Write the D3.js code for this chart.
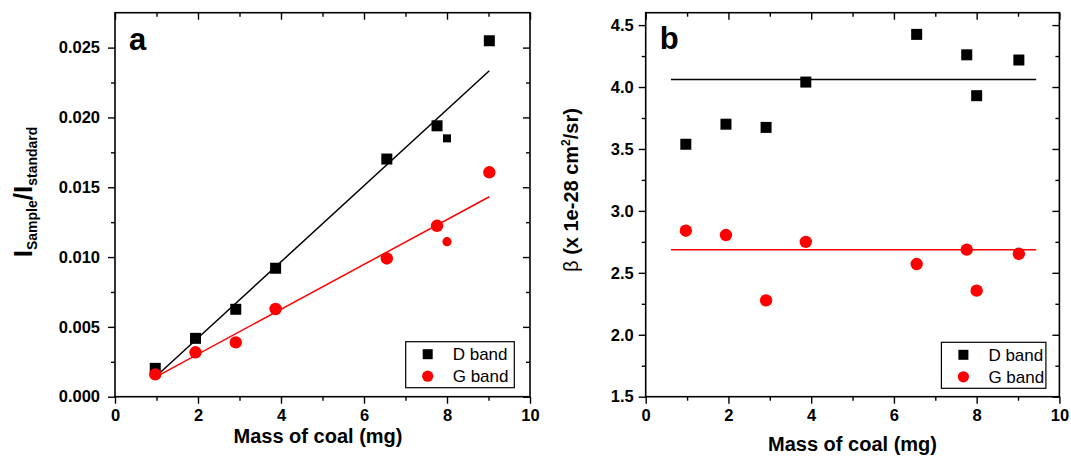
<!DOCTYPE html>
<html>
<head>
<meta charset="utf-8">
<script src="https://cdn.jsdelivr.net/npm/d3@7"></script>
<style>
  body { margin: 0; background: #fff; }
  svg { display: block; font-family: "Liberation Sans", Arial, sans-serif; }
</style>
</head>
<body>
<div id="chart"></div>
<script>
// data
var mass = [0.97, 1.94, 2.91, 3.87, 6.55, 7.76, 8.0, 9.02];
var ratioD = [0.00203, 0.00418, 0.00626, 0.0092, 0.01702, 0.0194, 0.0185, 0.02549];
var ratioG = [0.0016, 0.00318, 0.00389, 0.00628, 0.0099, 0.01224, 0.0111, 0.01607];
var betaD = [3.538, 3.70, 3.674, 4.04, 4.425, 4.26, 3.93, 4.218];
var betaG = [2.84, 2.805, 2.278, 2.75, 2.571, 2.687, 2.356, 2.654];

// fitted lines (end points)
var fitMass = [0.965, 9.02];
var fitRatioD = [0.00139, 0.02334];
var fitRatioG = [0.00139, 0.01432];
var meanMass = [0.61, 9.44];
var meanBetaD = [4.06, 4.06];
var meanBetaG = [2.687, 2.687];

var seriesNames = ['D band', 'G band'];
var massTicks = [0, 2, 4, 6, 8, 10];
var massMinor = [1, 3, 5, 7, 9];
var ratioTicks = [0, 0.005, 0.010, 0.015, 0.020, 0.025];
var ratioMinor = [0.0025, 0.0075, 0.0125, 0.0175, 0.0225];
var betaTicks = [1.5, 2.0, 2.5, 3.0, 3.5, 4.0, 4.5];
var betaMinor = [1.75, 2.25, 2.75, 3.25, 3.75, 4.25];

var W = 1071, H = 460;
var svg = d3.select('#chart').append('svg').attr('width', W).attr('height', H);

var plotTop = 12.7, plotBottom = 396.7;
var red = '#ff0000';

function panel(opt) {
  var x = d3.scaleLinear().domain([0, 10]).range([opt.left, opt.right]);
  var y = d3.scaleLinear().domain(opt.yDomain).range([plotBottom, plotTop]);
  var g = svg.append('g');

  // minor + major ticks, outward on bottom/left, inward on top/right
  function ticks(axis, vals, size, tr, fmt, pad) {
    var a = axis.tickValues(vals).tickSize(size).tickPadding(pad || 0);
    a.tickFormat(fmt || '');
    var gg = g.append('g').attr('transform', tr).call(a);
    gg.select('.domain').remove();
    gg.selectAll('line').attr('stroke', '#000').attr('stroke-width', 1.4);
    return gg;
  }
  var xb = ticks(d3.axisBottom(x), massTicks, 7, 'translate(0,' + plotBottom + ')', d3.format('d'), 6);
  ticks(d3.axisBottom(x), massMinor, 4, 'translate(0,' + plotBottom + ')');
  ticks(d3.axisBottom(x), massTicks, 7, 'translate(0,' + plotTop + ')');
  ticks(d3.axisBottom(x), massMinor, 4, 'translate(0,' + plotTop + ')');
  var yl = ticks(d3.axisLeft(y), opt.yTicks, 7, 'translate(' + opt.left + ',0)', opt.yFormat, opt.yPad);
  ticks(d3.axisLeft(y), opt.yMinor, 4, 'translate(' + opt.left + ',0)');
  ticks(d3.axisLeft(y), opt.yTicks, 7, 'translate(' + opt.right + ',0)');
  ticks(d3.axisLeft(y), opt.yMinor, 4, 'translate(' + opt.right + ',0)');

  [xb, yl].forEach(function (a) {
    a.selectAll('text')
      .attr('fill', '#000')
      .style('font-size', '16.5px')
      .style('font-weight', 'bold')
      .style('font-family', '"Liberation Sans", Arial, sans-serif');
  });

  g.append('rect')
    .attr('x', opt.left).attr('y', plotTop)
    .attr('width', opt.right - opt.left).attr('height', plotBottom - plotTop)
    .attr('fill', 'none').attr('stroke', '#000').attr('stroke-width', 1.6);

  // fit lines
  var line = d3.line().x(function (d) { return x(d[0]); }).y(function (d) { return y(d[1]); });
  g.append('path').attr('d', line(d3.zip(opt.fitX, opt.fitD)))
    .attr('fill', 'none').attr('stroke', '#000').attr('stroke-width', 1.5);
  g.append('path').attr('d', line(d3.zip(opt.fitX, opt.fitG)))
    .attr('fill', 'none').attr('stroke', red).attr('stroke-width', 1.5);

  function big(i) { return !(opt.smallIndex === i); }

  g.selectAll('.sq').data(d3.zip(mass, opt.dVals)).enter().append('rect')
    .attr('x', function (d, i) { var s = big(i) ? 11 : 8; return x(d[0]) - s / 2; })
    .attr('y', function (d, i) { var s = big(i) ? 11 : 8; return y(d[1]) - s / 2; })
    .attr('width', function (d, i) { return big(i) ? 11 : 8; })
    .attr('height', function (d, i) { return big(i) ? 11 : 8; })
    .attr('fill', '#000');

  g.selectAll('.ci').data(d3.zip(mass, opt.gVals)).enter().append('circle')
    .attr('cx', function (d) { return x(d[0]); })
    .attr('cy', function (d) { return y(d[1]); })
    .attr('r', function (d, i) { return big(i) ? 6.2 : 4.6; })
    .attr('fill', red);

  // panel letter
  g.append('text').attr('x', opt.left + opt.letterDx).attr('y', opt.letterY)
    .style('font-size', '31px').style('font-weight', 'bold').text(opt.letter);

  // x title
  g.append('text').attr('x', opt.xTitleX).attr('y', opt.xTitleY)
    .attr('text-anchor', 'middle')
    .style('font-size', '20px').style('font-weight', 'bold')
    .text('Mass of coal (mg)');

  // legend
  var lg = g.append('g').attr('transform', 'translate(' + opt.legend[0] + ',' + opt.legend[1] + ')');
  lg.append('rect').attr('width', opt.legend[2]).attr('height', 46)
    .attr('fill', '#fff').attr('stroke', '#000').attr('stroke-width', 1.2);
  lg.append('rect').attr('x', 17).attr('y', 7.5).attr('width', 10).attr('height', 10).attr('fill', '#000');
  lg.append('circle').attr('cx', 22).attr('cy', 34.5).attr('r', 5.6).attr('fill', red);
  lg.selectAll('.lt').data(seriesNames).enter().append('text')
    .attr('x', 47).attr('y', function (d, i) { return 18.5 + i * 22; })
    .style('font-size', '17px').text(function (d) { return d; });

  return g;
}

panel({
  left: 115, right: 530, yDomain: [0, 0.0275],
  yTicks: ratioTicks, yMinor: ratioMinor, yFormat: d3.format('.3f'), yPad: 8,
  fitX: fitMass, fitD: fitRatioD, fitG: fitRatioG,
  dVals: ratioD, gVals: ratioG, smallIndex: 6,
  letter: 'a', letterDx: 14, letterY: 50,
  xTitleX: 318, xTitleY: 443,
  legend: [405.7, 341.7, 108.6]
});

panel({
  left: 645.7, right: 1059.4, yDomain: [1.5, 4.6],
  yTicks: betaTicks, yMinor: betaMinor, yFormat: d3.format('.1f'), yPad: 5,
  fitX: meanMass, fitD: meanBetaD, fitG: meanBetaG,
  dVals: betaD, gVals: betaG, smallIndex: -1,
  letter: 'b', letterDx: 14, letterY: 49,
  xTitleX: 852.5, xTitleY: 451,
  legend: [941.4, 342.3, 104.5]
});

// y titles
var ya = svg.append('text')
  .attr('transform', 'translate(32,192) rotate(-90)')
  .attr('text-anchor', 'middle')
  .style('font-weight', 'bold');
ya.append('tspan').style('font-size', '26px').text('I');
ya.append('tspan').style('font-size', '14px').attr('dy', 5).text('Sample');
ya.append('tspan').style('font-size', '26px').attr('dy', -5).text('/I');
ya.append('tspan').style('font-size', '14px').attr('dy', 5).text('standard');

var yb = svg.append('text')
  .attr('transform', 'translate(578,190) rotate(-90)')
  .attr('text-anchor', 'middle')
  .style('font-size', '20px')
  .style('font-weight', 'bold');
yb.append('tspan').style('font-weight', 'normal').text('β');
yb.append('tspan').text(' (x 1e-28 cm');
yb.append('tspan').style('font-size', '12px').attr('dy', -8).text('2');
yb.append('tspan').attr('dy', 8).text('/sr)');
</script>
</body>
</html>
